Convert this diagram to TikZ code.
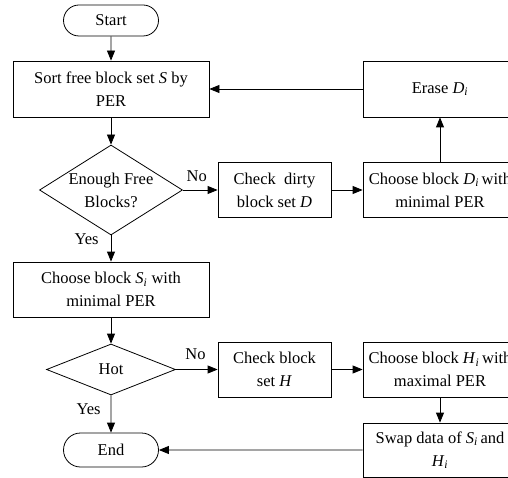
\documentclass[tikz,border=0pt]{standalone}
\usepackage{fontspec}
\setmainfont{Liberation Serif}
\usetikzlibrary{shapes.geometric,shapes.misc,arrows.meta}
\newcommand{\sub}[2]{\textit{#1}\textsubscript{\textit{#2}}}
\begin{document}
\begin{tikzpicture}[x=1pt,y=-1pt,
  font=\fontsize{16.5}{23}\selectfont,
  every node/.style={inner sep=0pt},
  box/.style={draw, line width=0.8pt, align=center},
  term/.style={draw, line width=0.8pt, rounded rectangle},
  dec/.style={draw, line width=0.8pt, diamond, aspect=1.6, align=center},
  arr/.style={draw, line width=0.8pt, -{Triangle[length=10pt,width=8pt]}},
  lbl/.style={font=\fontsize{16.5}{20}\selectfont}]
\useasboundingbox (0,0) rectangle (508,478);
\clip (0,0) rectangle (508,478);
\node[term, minimum width=95pt, minimum height=31pt] (start) at (111,20.5) {Start};
\node[box, minimum width=196pt, minimum height=56pt] (sort) at (111,89) {Sort free block set \textit{S} by\\PER};
\node[dec, minimum width=143pt, minimum height=90pt] (enough) at (111,190) {Enough Free\\Blocks?};
\node[box, minimum width=113pt, minimum height=55pt] (dirty) at (274.5,190) {Check\ \ dirty\\block set \textit{D}};
\node[box, minimum width=154pt, minimum height=55pt] (chd) at (440,190) {Choose block \sub{D}{i}\,with\\minimal PER};
\node[box, minimum width=154pt, minimum height=56pt] (erase) at (440,89) {Erase \sub{D}{i}};
\node[box, minimum width=196pt, minimum height=55pt] (chs) at (111,289.5) {Choose block \sub{S}{i} with\\minimal PER};
\node[dec, minimum width=129pt, minimum height=51pt] (hot) at (111,369.5) {Hot};
\node[box, minimum width=113pt, minimum height=55pt] (chkh) at (274.5,369.5) {Check block\\set \textit{H}};
\node[box, minimum width=154pt, minimum height=55pt] (chh) at (440,369.5) {Choose block \sub{H}{i}\,with\\maximal PER};
\node[box, minimum width=154pt, minimum height=54pt] (swap) at (440,450) {Swap data of \sub{S}{i}\,and\\\sub{H}{i}};
\node[term, minimum width=95pt, minimum height=34pt] (end) at (111,450) {End};
\draw[arr] (start) -- (sort);
\draw[arr] (sort) -- (enough);
\draw[arr] (enough) -- (chs) node[lbl, pos=0.15, left=12pt] {Yes};
\draw[arr] (enough) -- (dirty) node[lbl, pos=0.4, above=8pt] {No};
\draw[arr] (dirty) -- (chd);
\draw[arr] (chd) -- (erase);
\draw[arr] (erase) -- (sort);
\draw[arr] (chs) -- (hot);
\draw[arr] (hot) -- (chkh) node[lbl, pos=0.47, above=9pt] {No};
\draw[arr] (chkh) -- (chh);
\draw[arr] (chh) -- (swap);
\draw[arr] (swap) -- (end);
\draw[arr] (hot) -- (end) node[lbl, pos=0.37, left=10pt] {Yes};
\end{tikzpicture}
\end{document}
